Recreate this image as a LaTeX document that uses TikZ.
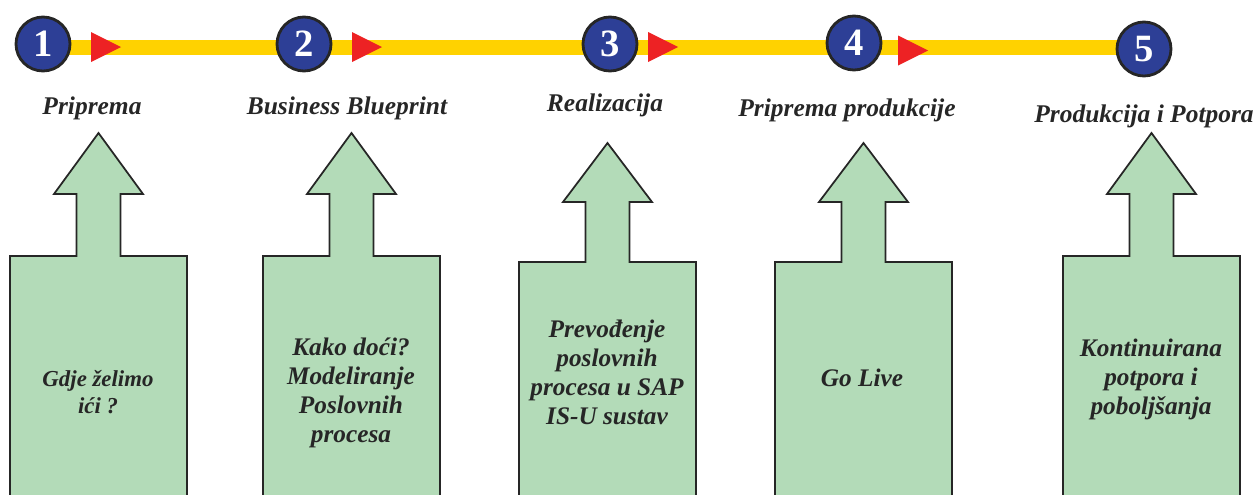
\documentclass[tikz,border=0pt]{standalone}
\usepackage{fontspec}
\setmainfont{Liberation Serif}
\usepackage{tikz}
\usetikzlibrary{positioning}

\definecolor{stepgreen}{RGB}{179,219,184}
\definecolor{stepblue}{RGB}{45,63,150}
\definecolor{baryellow}{RGB}{255,210,0}
\definecolor{tipred}{RGB}{237,34,36}

\tikzset{
    phase/.style={circle, draw=black!85, line width=1.6pt, fill=stepblue, text=white,
        minimum size=1.08cm, inner sep=0pt, font=\fontsize{22}{22}\selectfont\bfseries},
    title/.style={font=\fontsize{14.5}{17}\selectfont\bfseries\itshape, text=black!85},
    boxtext/.style={align=center, text=black!85,
        font=\fontsize{14.4}{16.5}\selectfont\bfseries\itshape},
    upshape/.style={fill=stepgreen, draw=black!85, line width=1pt, line join=miter},
}

% #1 centre x, #2 tip y, #3 head base y, #4 shoulder y
\newcommand{\uparrowbox}[4]{%
    \draw[upshape] (#1-88.5,497) -- (#1-88.5,#4) -- (#1-22,#4) -- (#1-22,#3)
        -- (#1-44.5,#3) -- (#1,#2) -- (#1+44.5,#3) -- (#1+22,#3) -- (#1+22,#4)
        -- (#1+88.5,#4) -- (#1+88.5,497);
}

\begin{document}
\begin{tikzpicture}[x=0.02cm, y=-0.02cm]
\useasboundingbox (0,0) rectangle (1255,494);

% time line
\coordinate (barL) at (43,47.5);
\coordinate (barR) at (1144,47.5);
\draw[baryellow, line width=0.3cm] (barL) -- (barR);
\foreach \x/\y in {91/47, 352/47, 648/47, 898/50.5}
    \fill[tipred] (\x,\y-15) -- (\x+30,\y) -- (\x,\y+15) -- cycle;

\node[phase] (c1) at (43,44) {1};
\node[phase] (c2) at (304,44) {2};
\node[phase] (c3) at (610,44) {3};
\node[phase] (c4) at (854,43) {4};
\node[phase] (c5) at (1144,49) {5};

\node[title] (t1) at (92,108) {Priprema};
\node[title] (t2) at (347,108) {Business Blueprint};
\node[title] (t3) at (605,105) {Realizacija};
\node[title] (t4) at (847,110) {Priprema produkcije};
\node[title] (t5) at (1144,116) {Produkcija i Potpora};

% arrows up
\uparrowbox{98.5}{133}{194}{256}
\uparrowbox{351.5}{133}{194}{256}
\uparrowbox{607.5}{143}{202}{262}
\uparrowbox{863.5}{143}{202}{262}
\uparrowbox{1151.5}{133}{194}{256}

\node[boxtext, font=\fontsize{13}{15.3}\selectfont\bfseries\itshape] (b1) at (98,392)
    {Gdje želimo\\ići ?};
\node[boxtext] (b2) at (351,393) {Kako doći?\\Modeliranje\\Poslovnih\\procesa};
\node[boxtext] (b3) at (607,372) {Prevođenje\\poslovnih\\procesa u SAP\\IS-U sustav};
\node[boxtext] (b4) at (862,378) {Go Live};
\node[boxtext] (b5) at (1151,379) {Kontinuirana\\potpora i\\poboljšanja};
\end{tikzpicture}
\end{document}
